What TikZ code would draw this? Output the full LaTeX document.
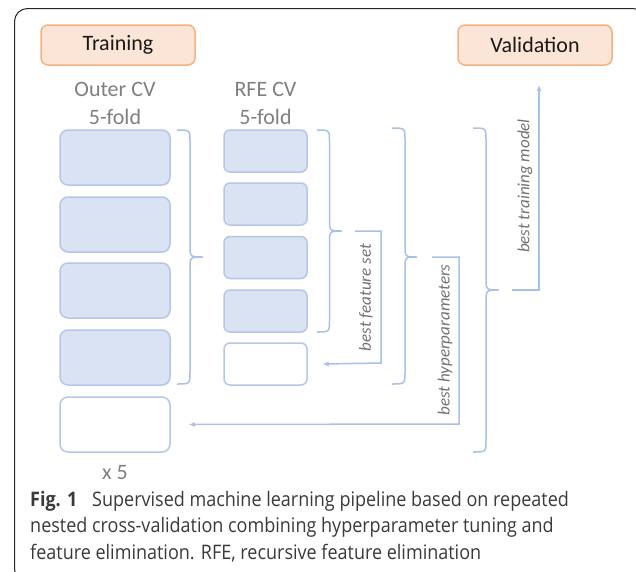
\documentclass[tikz,border=0pt]{standalone}
\usepackage{fontspec}
\setmainfont{Carlito}
\newfontfamily\capfont{Open Sans}[FakeStretch=0.9]
\usetikzlibrary{arrows.meta}

\definecolor{boxfill}{HTML}{DAE3F3}
\definecolor{boxline}{HTML}{B4C7E7}
\definecolor{linkblue}{HTML}{A9C0E8}
\definecolor{headfill}{HTML}{FBE5D6}
\definecolor{headline}{HTML}{F4B183}
\definecolor{labelgray}{HTML}{7F7F7F}
\definecolor{notegray}{HTML}{767171}
\definecolor{captext}{HTML}{3A3A3A}

% curly brace opening to the left, tip pointing right
% #1 end x, #2 spine x, #3 tip x, #4 top y, #5 tip y, #6 bottom y
\newcommand\openbrace[6]{%
  \draw[link] (#1,#4) .. controls (#2,#4) .. ({#2},{#4+12})
    -- ({#2},{#5-12}) .. controls (#2,#5) .. (#3,#5)
    .. controls (#2,#5) .. ({#2},{#5+12})
    -- ({#2},{#6-12}) .. controls (#2,#6) .. (#1,#6);}

\tikzset{
  phase/.style={draw=headline, fill=headfill, line width=1.5pt, rounded corners=7pt,
    minimum width=154pt, minimum height=40pt, inner sep=0pt,
    font=\fontsize{22}{26}\selectfont, text=black!90},
  foldbig/.style={draw=boxline, fill=boxfill, line width=1.5pt, rounded corners=8pt,
    minimum width=110pt, minimum height=55pt, inner sep=0pt},
  foldsmall/.style={draw=boxline, fill=boxfill, line width=1.5pt, rounded corners=6pt,
    minimum width=83pt, minimum height=42pt, inner sep=0pt},
  testfold/.style={fill=white},
  header/.style={anchor=base, text=labelgray, font=\fontsize{22}{26}\selectfont, inner sep=0pt},
  link/.style={draw=linkblue, line width=1.5pt},
  feedback/.style={link, -{Latex[length=6pt, width=5pt]}},
  note/.style={rotate=90, text=notegray, font=\fontsize{17}{20}\selectfont\itshape, inner sep=0pt},
  caption/.style={anchor=base west, inner sep=0pt, text=captext,
    font=\capfont\fontsize{20}{26}\selectfont}
}

\begin{document}
\begin{tikzpicture}[x=1pt, y=-1pt]
\useasboundingbox (0,0) rectangle (636,571);
\clip (0,0) rectangle (636,571);

% surrounding frame
\draw[black!85, line width=1pt, rounded corners=13pt] (14.5,8.5) rectangle (646,582);

% phase labels
\node[phase] (train) at (118,45) {Training};
\node[phase] (valid) at (535,45) {Validation};

% column headings
\node[header] (outerA) at (115,96.5) {Outer CV};
\node[header] (outerB) at (115,124) {5-fold};
\node[header] (rfeA) at (265.5,96.5) {RFE CV};
\node[header] (rfeB) at (265.5,124) {5-fold};

% outer folds
\node[foldbig] (out1) at (115,157.5) {};
\node[foldbig] (out2) at (115,224.5) {};
\node[foldbig] (out3) at (115,290.5) {};
\node[foldbig] (out4) at (115,357.5) {};
\node[foldbig, testfold] (out5) at (115,424.5) {};
\node[header] (reps) at (115,479) {x 5};

% RFE folds
\node[foldsmall] (rfe1) at (265.5,151) {};
\node[foldsmall] (rfe2) at (265.5,204) {};
\node[foldsmall] (rfe3) at (265.5,257.5) {};
\node[foldsmall] (rfe4) at (265.5,311) {};
\node[foldsmall, testfold] (rfe5) at (265.5,364) {};

% grouping braces
\openbrace{177}{190}{203}{130}{257}{384}
\openbrace{317}{329.5}{342}{130}{231}{332}
\openbrace{392}{405}{417}{128}{257}{384}
\openbrace{473}{486}{499}{128}{290}{452}

% feedback paths
\coordinate (fsStart) at (355,231);
\coordinate (fsEnd) at ([xshift=15pt]rfe5.east);
\draw[feedback] (fsStart) -- (381,231) -- (381,363) -- (fsEnd);
\node[note] (fsLabel) at (366,297.5) {best feature set};

\coordinate (hpStart) at (432,257);
\coordinate (hpEnd) at ([xshift=18pt]out5.east);
\draw[feedback] (hpStart) -- (459,257) -- (459,424) -- (hpEnd);
\node[note] (hpLabel) at (445,340) {best hyperparameters};

\coordinate (tmStart) at (512,290);
\coordinate (tmEnd) at (539,85);
\draw[feedback] (tmStart) -- (539,290) -- (tmEnd);
\node[note] (tmLabel) at (525,186) {best training model};

% caption
\node[caption] (capFig) at (30,506) {\textbf{Fig. 1}};
\node[caption] (cap1) at (92,506) {Supervised machine learning pipeline based on repeated};
\node[caption] (cap2) at (30,532.5) {nested cross-validation combining hyperparameter tuning and};
\node[caption] (cap3) at (30,559) {feature elimination. RFE, recursive feature elimination};
\end{tikzpicture}
\end{document}
